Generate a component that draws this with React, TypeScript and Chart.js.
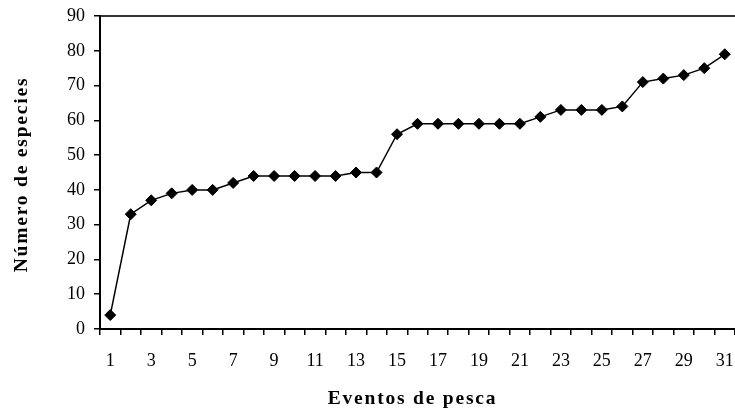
import { useEffect, useRef } from 'react';
import { Chart, registerables } from 'chart.js';

Chart.register(...registerables);

const categories = ['1','2','3','4','5','6','7','8','9','10','11','12','13','14','15','16','17','18','19','20','21','22','23','24','25','26','27','28','29','30','31'];
const species = [4,33,37,39,40,40,42,44,44,44,44,44,45,45,56,59,59,59,59,59,59,61,63,63,63,64,71,72,73,75,79];
const xTitle = 'Eventos de pesca';
const yTitle = 'Número de especies';
const yTicksMin = 0;
const yTicksMax = 90;
const yStep = 10;

const FONT = '"Liberation Serif", "Times New Roman", serif';

const titlesPlugin = {
  id: 'spacedTitles',
  afterDraw(chart: any) {
    const { ctx, chartArea } = chart;
    ctx.save();
    ctx.fillStyle = '#000';
    ctx.font = `bold 19.5px ${FONT}`;
    try { (ctx as any).letterSpacing = '1.8px'; } catch (e) {}
    ctx.textAlign = 'center';
    ctx.textBaseline = 'middle';
    const cx = (chartArea.left + chartArea.right) / 2 - 5;
    ctx.fillText(xTitle, cx, chartArea.bottom + 70);
    const cy = (chartArea.top + chartArea.bottom) / 2 + 2;
    ctx.translate(chartArea.left - 78, cy);
    ctx.rotate(-Math.PI / 2);
    ctx.fillText(yTitle, 0, 0);
    ctx.restore();
  },
};

const noPad = (s: any) => {
  s.paddingLeft = 0;
  s.paddingRight = 0;
  s.paddingTop = 0;
  s.paddingBottom = 0;
};

export default function App() {
  const ref = useRef<HTMLCanvasElement | null>(null);
  useEffect(() => {
    document.body.style.margin = '0';
    if (!ref.current) return;
    const chart = new Chart(ref.current, {
      type: 'line',
      data: {
        labels: categories,
        datasets: [
          {
            data: species,
            borderColor: '#000',
            backgroundColor: '#000',
            borderWidth: 1.5,
            pointStyle: 'rectRot',
            pointRadius: 5.5,
            pointBorderWidth: 1,
            pointBackgroundColor: '#000',
            pointBorderColor: '#000',
            tension: 0,
            fill: false,
          },
        ],
      },
      options: {
        animation: false,
        responsive: true,
        maintainAspectRatio: false,
        layout: { autoPadding: false, padding: { top: 16, right: 0, left: 0, bottom: 0 } },
        plugins: { legend: { display: false }, tooltip: { enabled: false }, title: { display: false } },
        scales: {
          x: {
            type: 'category',
            offset: true,
            grid: {
              offset: true,
              drawOnChartArea: false,
              drawTicks: true,
              tickLength: 6,
              color: '#000',
              lineWidth: 1.5,
            },
            border: { display: true, color: '#000', width: 2 },
            ticks: {
              autoSkip: false,
              maxRotation: 0,
              padding: 15,
              color: '#000',
              font: { family: FONT, size: 18 },
              callback: (_v: any, i: number) => (i % 2 === 0 ? categories[i] : ''),
            },
            afterFit: (s: any) => { s.height = 83; noPad(s); },
          },
          x2: {
            type: 'category',
            position: 'top',
            offset: true,
            grid: { display: false, drawTicks: false },
            border: { display: true, color: '#333', width: 2 },
            ticks: { display: false },
            afterFit: (s: any) => { s.height = 0; noPad(s); },
          },
          y: {
            min: yTicksMin,
            max: yTicksMax,
            grid: {
              drawOnChartArea: false,
              drawTicks: true,
              tickLength: 6,
              color: '#000',
              lineWidth: 1.5,
            },
            border: { display: true, color: '#000', width: 2 },
            ticks: {
              stepSize: yStep,
              padding: 9,
              color: '#000',
              font: { family: FONT, size: 18 },
            },
            afterFit: (s: any) => { s.width = 100; noPad(s); },
          },
        },
      },
      plugins: [titlesPlugin],
    });
    return () => chart.destroy();
  }, []);
  return (
    <div style={{ position: 'relative', width: '735px', height: '412px' }}>
      <canvas ref={ref} />
    </div>
  );
}
